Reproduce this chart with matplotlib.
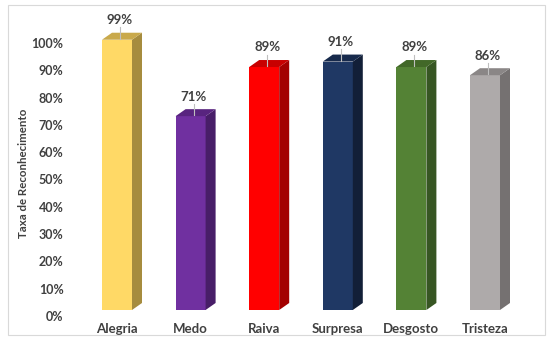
import matplotlib
matplotlib.use("Agg")
import matplotlib.pyplot as plt
from matplotlib.patches import Polygon, Rectangle

categories = ["Alegria", "Medo", "Raiva", "Surpresa", "Desgosto", "Tristeza"]
values = [0.99, 0.71, 0.89, 0.91, 0.89, 0.86]
labels = ["99%", "71%", "89%", "91%", "89%", "86%"]
yticks = [0, 0.1, 0.2, 0.3, 0.4, 0.5, 0.6, 0.7, 0.8, 0.9, 1.0]
yticklabels = ["0%", "10%", "20%", "30%", "40%", "50%", "60%", "70%", "80%", "90%", "100%"]

front = ["#FFD966", "#7030A0", "#FF0000", "#1F3864", "#548235", "#AEAAAA"]
top = ["#C9A94B", "#58247F", "#C80000", "#172A4C", "#426828", "#8A8686"]
side = ["#A68C3E", "#481E68", "#A30000", "#121F38", "#375623", "#757171"]

plt.rcParams['font.family'] = ['Lato', 'DejaVu Sans']
W, H = 551, 340
fig = plt.figure(figsize=(W / 100, H / 100), dpi=100)

# chart border
fig.patches.append(Rectangle((8 / W, 5 / H), (545 - 8) / W, (335 - 5) / H,
                             transform=fig.transFigure, fill=False,
                             edgecolor="#D9D9D9", linewidth=0.8))

step = 73.6
c0 = 117
xl, xr = -0.5, 5.6
left_px = c0 + xl * step
right_px = c0 + xr * step
y0_px, y100_px = 316, 43
ax = fig.add_axes([left_px / W, (H - y0_px) / H, (right_px - left_px) / W, (y0_px - y100_px) / H])
ax.set_xlim(xl, xr)
ax.set_ylim(0, 1.0)

bw = 30 / step
dx = 10 / step
dy = 7 / (y0_px - y100_px)
base = 0.022

for i, v in enumerate(values):
    x0 = i - bw / 2
    x1 = i + bw / 2
    ytop = base + v
    ax.add_patch(Rectangle((x0, base), bw, v, facecolor=front[i], edgecolor="none", zorder=3, clip_on=False))
    ax.add_patch(Polygon([(x1, base), (x1 + dx, base + dy), (x1 + dx, ytop + dy), (x1, ytop)],
                         closed=True, facecolor=side[i], edgecolor="none", zorder=3, clip_on=False))
    ax.add_patch(Polygon([(x0, ytop), (x0 + dx, ytop + dy), (x1 + dx, ytop + dy), (x1, ytop)],
                         closed=True, facecolor=top[i], edgecolor="none", zorder=3, clip_on=False))
    lx = i + 0.04
    ax.plot([lx, lx], [ytop + 0.003, ytop + 0.045], color="#BFBFBF", lw=0.8, zorder=4, clip_on=False)
    ax.text(lx, ytop + 0.05, labels[i], ha="center", va="bottom", fontsize=9.5,
            color="#404040", fontweight="bold", zorder=5, clip_on=False)

ax.set_xticks(range(len(categories)))
ax.set_xticklabels(categories, fontsize=9.5, fontweight="bold", color="#404040")
ax.set_yticks(yticks)
ax.set_yticklabels(yticklabels, fontsize=9, fontweight="bold", color="#404040")
ax.tick_params(axis="both", length=0)
ax.tick_params(axis="x", pad=5)
ax.tick_params(axis="y", pad=12)
for s in ax.spines.values():
    s.set_visible(False)
ax.set_ylabel("Taxa de Reconhecimento", fontsize=8.3, fontweight="bold", color="#404040")
ax.yaxis.set_label_coords(-0.114, 0.524)

fig.savefig("out.png", dpi=100)
